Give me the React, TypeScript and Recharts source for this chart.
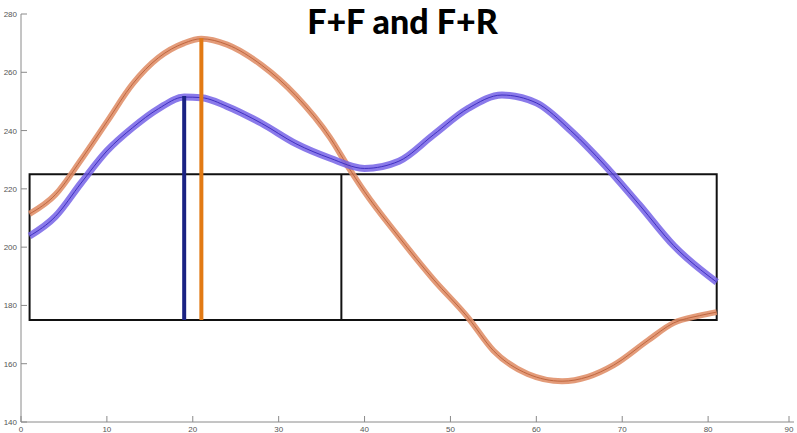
import React from 'react';
import {
  LineChart,
  Line,
  XAxis,
  YAxis,
  ReferenceLine,
  ReferenceArea
} from 'recharts';

// curve samples
const blueX = [1, 4, 7, 10, 13, 16, 19, 21, 24, 28, 32, 36, 40, 44, 48, 52, 56, 60, 64, 68, 72, 76, 81];
const blueY = [203.8, 210.5, 222, 233, 241, 247.5, 251.5, 251.3, 248.3, 242.5, 235.5, 230.5, 227, 229.5, 238.5, 247.5, 252.2, 249.5, 240, 228, 214.5, 200.5, 188];

const orangeX = [1, 4, 7, 10, 13, 16, 19, 21, 24, 28, 32, 36, 38, 40, 44, 48, 52, 55, 59, 63, 66, 69, 73, 76, 79, 81];
const orangeY = [211.4, 218, 230, 243, 256, 265, 270, 271.5, 269.5, 262.5, 252, 237.5, 228, 219, 203.5, 189, 176, 164.5, 156.5, 154, 155.5, 159.5, 168, 174, 176.5, 177.7];

// box and markers
const boxX = [1, 81];
const boxY = [175, 225];
const splitX = 37.3;
const navyMarker = { x: 19, top: 251.9 };
const orangeMarker = { x: 21, top: 271.7 };

const xTicks = [0, 10, 20, 30, 40, 50, 60, 70, 80, 90];
const yTicks = [140, 160, 180, 200, 220, 240, 260, 280];

const blueData = blueX.map((x, i) => ({ x, y: blueY[i] }));
const orangeData = orangeX.map((x, i) => ({ x, y: orangeY[i] }));

const axisColor = '#8a8a8a';
const labelColor = '#555';

const YTick = (props: any) => {
  const { x, y, payload } = props;
  return (
    <g>
      <line x1={x} x2={x + 6} y1={y} y2={y} stroke={axisColor} strokeWidth={1} />
      <text x={x - 4} y={y} dy={3} textAnchor="end" fontSize={8} fill={labelColor} fontFamily="Liberation Sans, Arial, sans-serif">
        {payload.value}
      </text>
    </g>
  );
};

const XTick = (props: any) => {
  const { x, y, payload } = props;
  return (
    <g>
      <line x1={x} x2={x} y1={y} y2={y - 6} stroke={axisColor} strokeWidth={1} />
      <text x={x} y={y} dy={10} textAnchor="middle" fontSize={8} fill={labelColor} fontFamily="Liberation Sans, Arial, sans-serif">
        {payload.value}
      </text>
    </g>
  );
};

export default function App() {
  return (
    <div style={{ position: 'absolute', left: 0, top: 0, width: 797, height: 433, background: '#fff' }}>
      <LineChart width={797} height={433} margin={{ top: 14, right: 3, left: 0, bottom: 0 }}>
        <XAxis
          type="number"
          dataKey="x"
          domain={[0, 90]}
          ticks={xTicks}
          height={11}
          tickSize={0}
          tickMargin={0}
          tickLine={false}
          axisLine={{ stroke: axisColor, strokeWidth: 1 }}
          tick={<XTick />}
          allowDataOverflow
        />
        <YAxis
          type="number"
          dataKey="y"
          domain={[140, 280]}
          ticks={yTicks}
          width={21}
          tickSize={0}
          tickMargin={0}
          tickLine={false}
          axisLine={{ stroke: axisColor, strokeWidth: 1 }}
          tick={<YTick />}
          allowDataOverflow
        />

        <ReferenceArea
          x1={boxX[0]}
          x2={boxX[1]}
          y1={boxY[0]}
          y2={boxY[1]}
          fill="none"
          fillOpacity={0}
          stroke="#111"
          strokeWidth={2}
        />
        <ReferenceLine
          segment={[{ x: splitX, y: boxY[0] }, { x: splitX, y: boxY[1] }]}
          stroke="#111"
          strokeWidth={2}
        />

        {/* wide translucent bands with a thin centre line */}
        <Line data={orangeData} dataKey="y" type="monotone" stroke="#e0906a" strokeOpacity={0.9} strokeWidth={6} dot={false} isAnimationActive={false} />
        <Line data={orangeData} dataKey="y" type="monotone" stroke="#c0663f" strokeWidth={1} dot={false} isAnimationActive={false} />
        <Line data={blueData} dataKey="y" type="monotone" stroke="#7563e6" strokeOpacity={0.85} strokeWidth={7} dot={false} isAnimationActive={false} />
        <Line data={blueData} dataKey="y" type="monotone" stroke="#4030c0" strokeWidth={1} dot={false} isAnimationActive={false} />

        <ReferenceLine
          segment={[{ x: navyMarker.x, y: boxY[0] }, { x: navyMarker.x, y: navyMarker.top }]}
          stroke="#1b2383"
          strokeWidth={4}
        />
        <ReferenceLine
          segment={[{ x: orangeMarker.x, y: boxY[0] }, { x: orangeMarker.x, y: orangeMarker.top }]}
          stroke="#e27a14"
          strokeWidth={4}
        />
      </LineChart>
      <div
        style={{
          position: 'absolute',
          left: 0,
          top: 2,
          width: 805,
          textAlign: 'center',
          fontFamily: 'Lato, "Open Sans", sans-serif',
          fontWeight: 900,
          fontSize: 34,
          color: '#000',
          lineHeight: '38px'
        }}
      >
        F+F and F+R
      </div>
    </div>
  );
}
